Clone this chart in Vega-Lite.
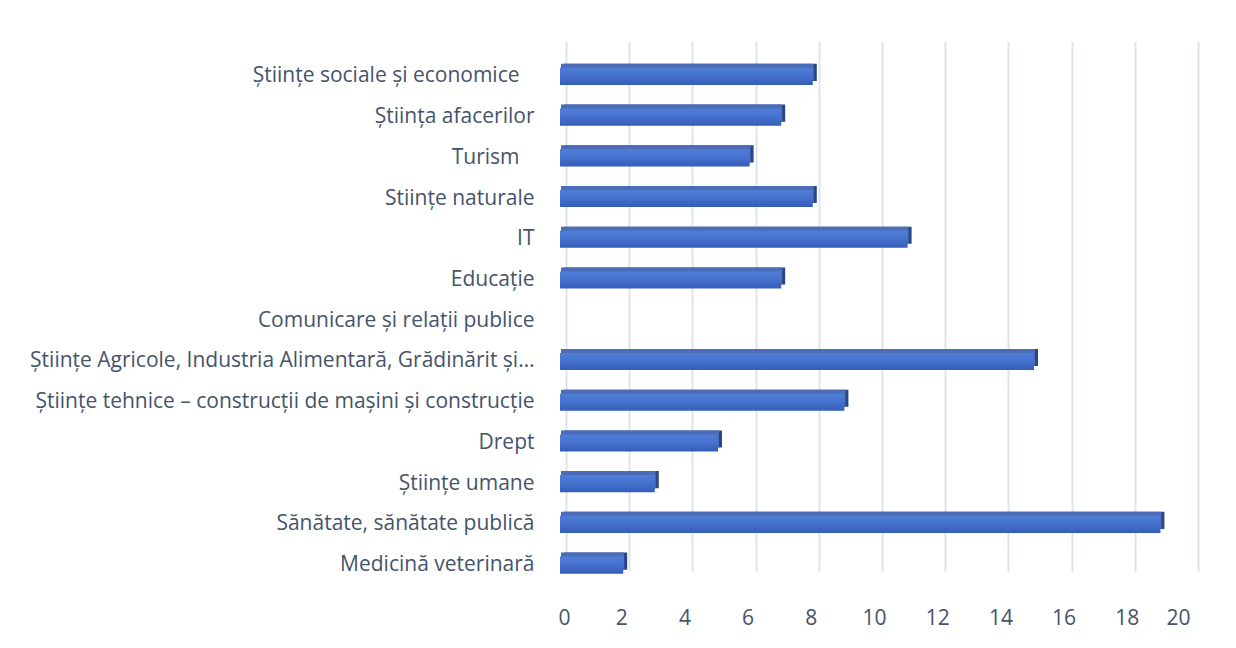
{
  "$schema": "https://vega.github.io/schema/vega-lite/v6.json",
  "autosize": {"type": "none"},
  "width": 632,
  "height": 543,
  "padding": {"left": 560, "top": 42, "right": 44, "bottom": 63},
  "background": "white",
  "config": {"view": {"stroke": null}, "font": "Open Sans"},
  "data": {"values": [
    {"domeniu": "Științe sociale și economice\u2800", "valoare": 8},
    {"domeniu": "Știința afacerilor", "valoare": 7},
    {"domeniu": "Turism\u2800", "valoare": 6},
    {"domeniu": "Stiințe naturale", "valoare": 8},
    {"domeniu": "IT", "valoare": 11},
    {"domeniu": "Educație", "valoare": 7},
    {"domeniu": "Comunicare și relații publice", "valoare": 0},
    {"domeniu": "Științe Agricole, Industria Alimentară, Grădinărit și…", "valoare": 15},
    {"domeniu": "Științe tehnice – construcții de mașini și construcție", "valoare": 9},
    {"domeniu": "Drept", "valoare": 5},
    {"domeniu": "Științe umane", "valoare": 3},
    {"domeniu": "Sănătate, sănătate publică", "valoare": 19},
    {"domeniu": "Medicină veterinară", "valoare": 2}
  ]},
  "encoding": {
    "y": {
      "field": "domeniu", "type": "nominal", "sort": null, "title": null,
      "scale": {"range": [14, 543.5], "paddingInner": 0.58, "paddingOuter": 0.29},
      "axis": {"domain": false, "ticks": false, "labelFontSize": 21, "labelColor": "#44546a", "labelPadding": 26, "labelLimit": 560, "labelFont": "Open Sans"}
    },
    "x": {
      "field": "valoare", "type": "quantitative", "title": null,
      "scale": {"domain": [0, 20], "nice": false},
      "axis": {"values": [0,2,4,6,8,10,12,14,16,18,20], "domain": false, "ticks": false, "grid": true, "gridColor": "#dfe3ea", "gridWidth": 2, "tickOffset": 6, "labelOffset": -8, "labelFontSize": 21, "labelColor": "#44546a", "labelPadding": 22, "labelFont": "Open Sans"}
    }
  },
  "layer": [
    {"mark": {"type": "bar", "color": "#2a4684", "xOffset": 4, "yOffset": -4}},
    {"mark": {"type": "bar", "color": "#4b6db8", "xOffset": 1, "yOffset": -4}},
    {"mark": {"type": "bar",
      "color": {"gradient": "linear", "x1": 0, "y1": 0, "x2": 0, "y2": 1,
        "stops": [{"offset": 0, "color": "#4f7dd6"}, {"offset": 0.45, "color": "#4673cf"}, {"offset": 1, "color": "#335db9"}]}}}
  ]
}
